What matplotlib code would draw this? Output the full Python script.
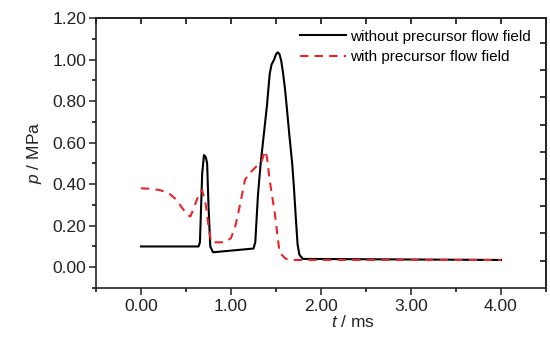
import numpy as np
import matplotlib.pyplot as plt
from matplotlib.ticker import MultipleLocator, FixedLocator, NullFormatter

plt.rcParams['font.family'] = ['Liberation Sans', 'DejaVu Sans']
plt.rcParams['mathtext.fontset'] = 'custom'
plt.rcParams['mathtext.it'] = 'Liberation Sans:italic'
plt.rcParams['mathtext.rm'] = 'Liberation Sans'

# pressure without precursor flow field (black)
t_without = [0.00, 0.64, 0.655, 0.68, 0.70, 0.72, 0.735, 0.75, 0.77, 0.80, 1.00, 1.25,
             1.27, 1.30, 1.33, 1.36, 1.40, 1.43, 1.45, 1.48, 1.50, 1.52, 1.54, 1.56,
             1.58, 1.60, 1.62, 1.65, 1.68, 1.70, 1.72, 1.74, 1.76, 1.80, 4.00]
p_without = [0.10, 0.10, 0.12, 0.45, 0.54, 0.53, 0.50, 0.30, 0.10, 0.072, 0.08, 0.09,
             0.12, 0.35, 0.50, 0.62, 0.78, 0.93, 0.975, 1.00, 1.025, 1.035, 1.025, 0.99,
             0.93, 0.86, 0.77, 0.63, 0.50, 0.38, 0.24, 0.11, 0.06, 0.04, 0.035]

# pressure with precursor flow field (red dashed)
t_with = [0.00, 0.10, 0.20, 0.30, 0.38, 0.45, 0.52, 0.55, 0.60, 0.65, 0.68, 0.72,
          0.75, 0.78, 0.93, 1.00, 1.05, 1.10, 1.155, 1.20, 1.27, 1.34, 1.38, 1.40,
          1.43, 1.49, 1.54, 1.61, 1.70, 4.00]
p_with = [0.38, 0.378, 0.372, 0.36, 0.33, 0.29, 0.25, 0.245, 0.30, 0.36, 0.37, 0.30,
          0.20, 0.12, 0.12, 0.14, 0.20, 0.30, 0.42, 0.45, 0.48, 0.51, 0.56, 0.53,
          0.42, 0.25, 0.07, 0.04, 0.035, 0.035]

right_ticks = [0.032 + 0.131 * k for k in range(9)]

fig = plt.figure(figsize=(5.5, 3.37), dpi=100)
ax = fig.add_axes([0.1745, 0.1454, 0.8182, 0.8012])

ax.plot(t_without, p_without, color='black', lw=1.5, label='without precursor flow field')
ax.plot(t_with, p_with, color='#e8262a', lw=1.5, dashes=(4, 3), label='with precursor flow field')

ax.set_xlim(-0.5, 4.5)
ax.set_ylim(-0.1, 1.2)
ax.xaxis.set_major_locator(FixedLocator([0, 1, 2, 3, 4]))
ax.xaxis.set_minor_locator(FixedLocator([-0.5, 0.5, 1.5, 2.5, 3.5, 4.5]))
ax.yaxis.set_major_locator(MultipleLocator(0.2))
ax.yaxis.set_minor_locator(MultipleLocator(0.1))
ax.xaxis.set_major_formatter(lambda v, pos: f'{v:.2f}')
ax.yaxis.set_major_formatter(lambda v, pos: f'{v:.2f}')
ax.tick_params(which='major', direction='out', length=5, width=1.1, labelsize=12.5,
               colors='#222222', top=False, right=False)
ax.tick_params(which='minor', direction='out', length=3, width=1.1, top=False, right=False)
ax.tick_params(axis='x', pad=3)
ax.tick_params(axis='y', pad=2)

# inward ticks on top and right
top = ax.secondary_xaxis('top')
top.xaxis.set_major_locator(MultipleLocator(0.5))
top.xaxis.set_major_formatter(NullFormatter())
top.tick_params(direction='in', length=4, width=1.1)
right = ax.secondary_yaxis('right')
right.yaxis.set_major_locator(FixedLocator(right_ticks))
right.yaxis.set_major_formatter(NullFormatter())
right.tick_params(direction='in', length=4, width=1.1)

for s in list(ax.spines.values()) + [top.spines['top'], right.spines['right']]:
    s.set_linewidth(1.2)
    s.set_color('#222222')

ax.set_xlabel('$t$ / ms', fontsize=12.5, labelpad=0, x=0.57, color='#222222')
ax.set_ylabel('$p$ / MPa', fontsize=12.5, labelpad=6, color='#222222')

ax.legend(loc='upper right', bbox_to_anchor=(0.98, 0.98), frameon=False, fontsize=11,
          handlelength=3.0, handletextpad=0.3, labelspacing=0.45, borderaxespad=0)

fig.savefig('out.png', dpi=100)
